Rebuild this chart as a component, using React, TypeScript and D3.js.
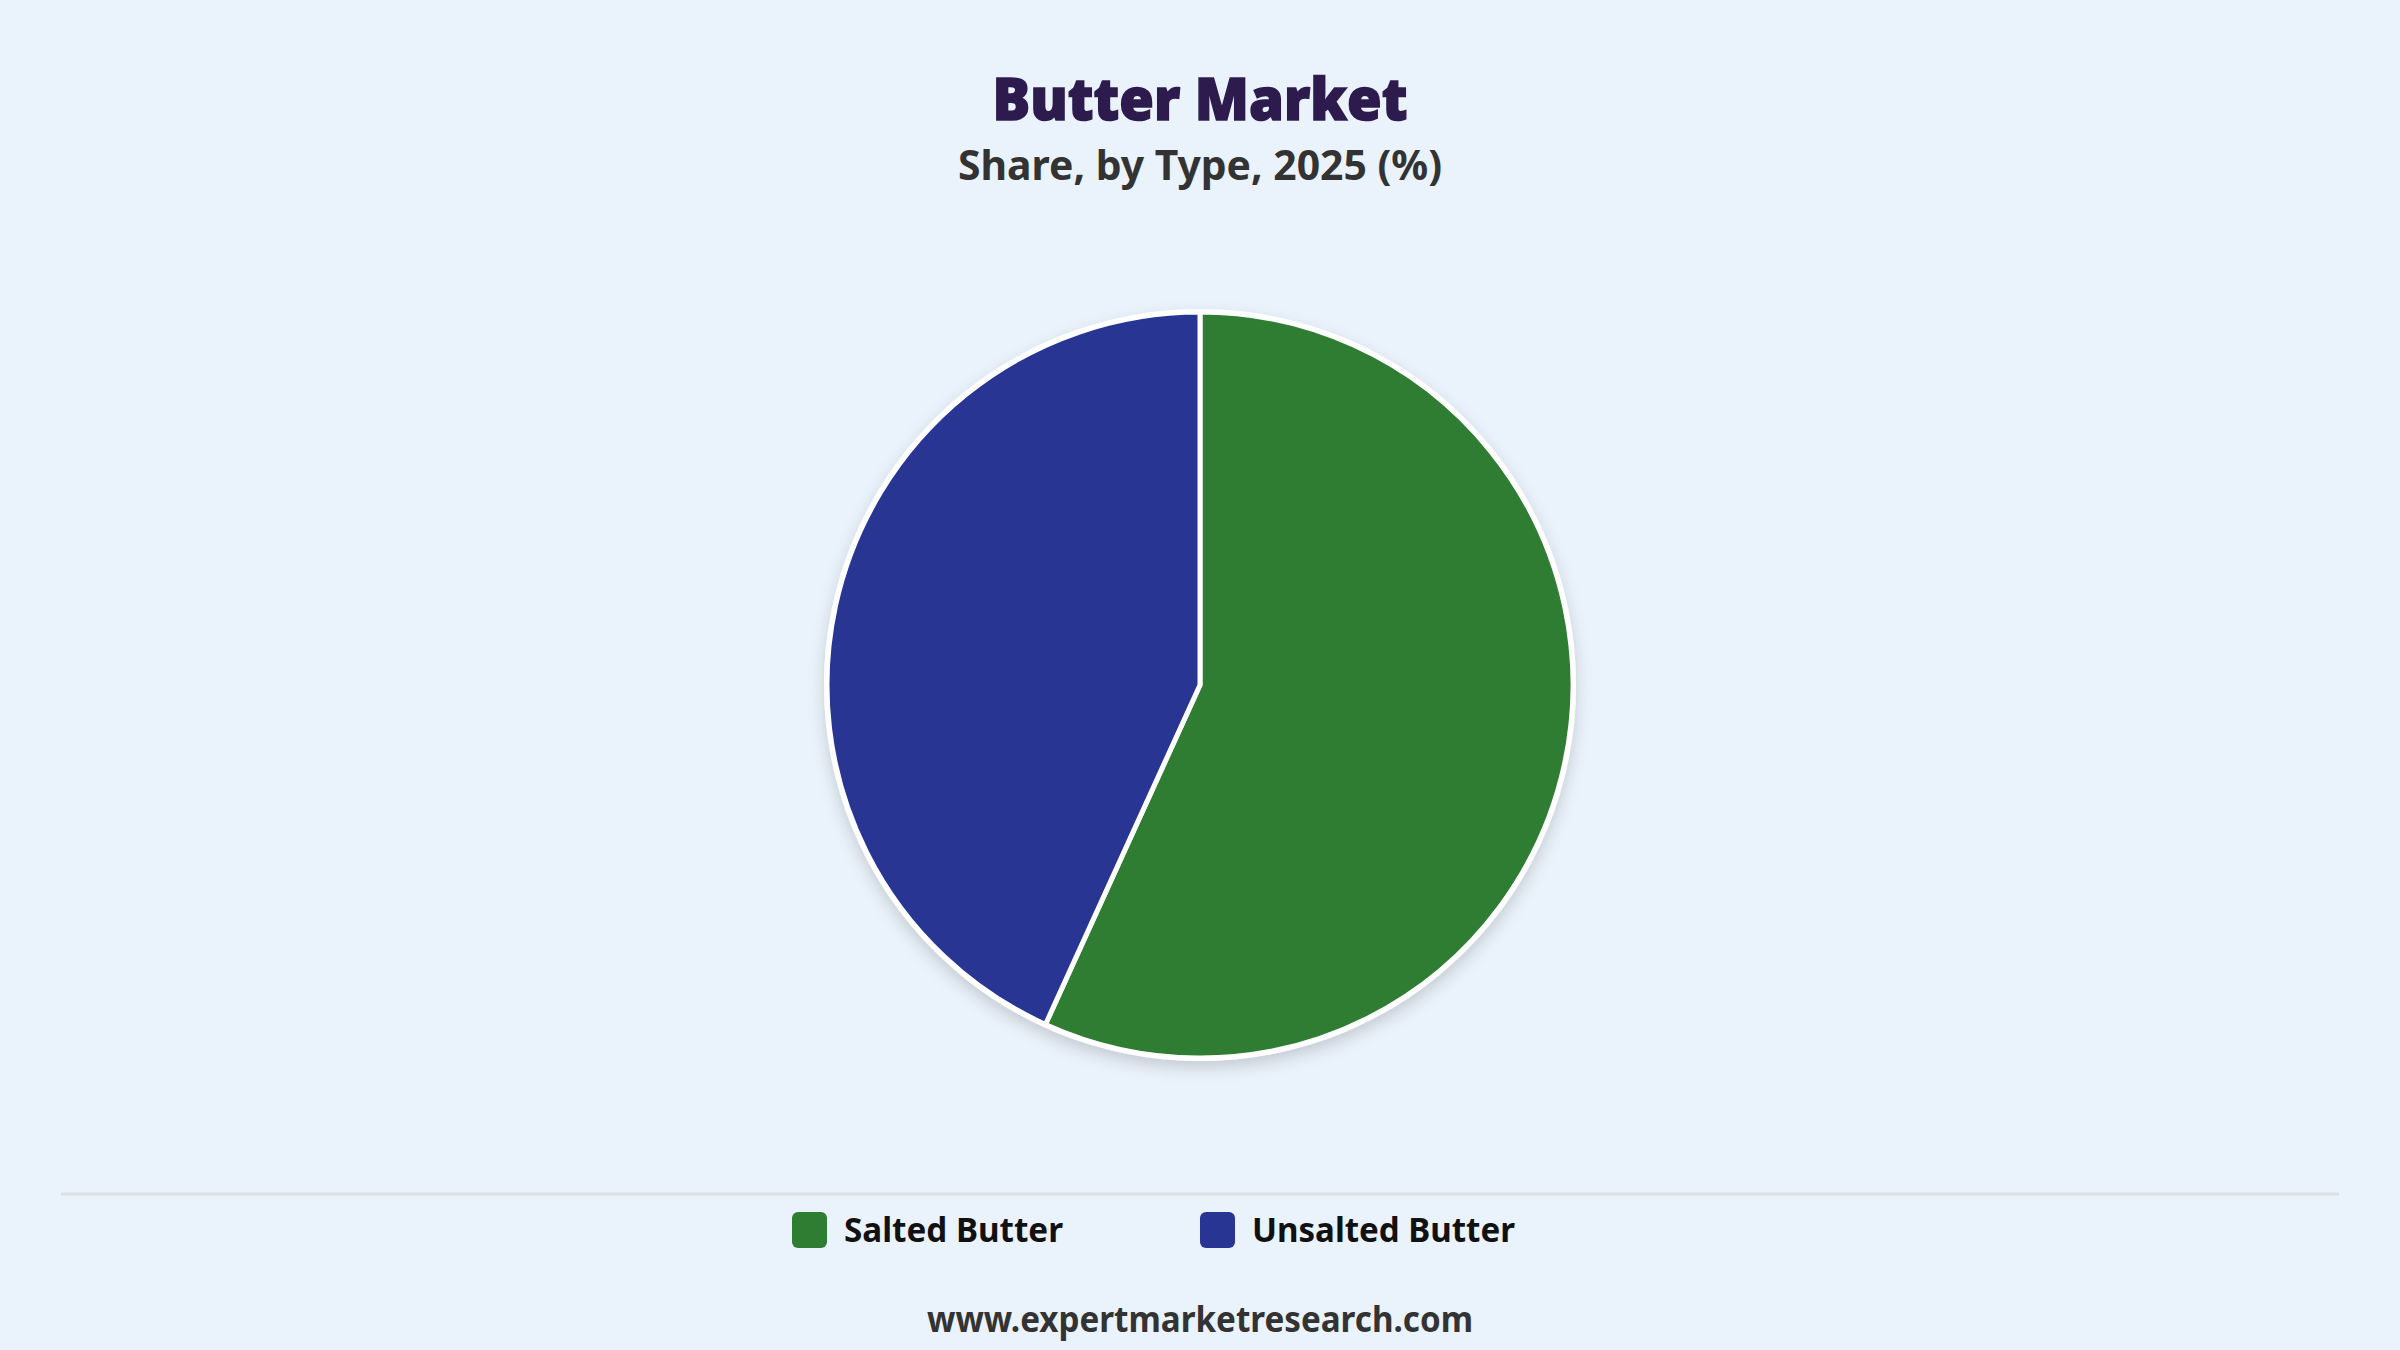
import * as d3 from 'd3';
import { useEffect } from 'react';

const categories = ['Salted Butter', 'Unsalted Butter'];
const shares = [56.8, 43.2];
const colours = ['#2e7d32', '#283593'];

const W = 2400;
const H = 1350;

const App = () => {
  useEffect(() => {
    document.body.style.margin = '0';
    document.body.style.background = '#eaf2fb';
  }, []);

  const cx = W / 2;
  const cy = 685;
  const radius = 373;

  const color = d3.scaleOrdinal<string, string>().domain(categories).range(colours);
  const pie = d3
    .pie<number>()
    .sort(null)
    .value((d) => d);
  const arcs = pie(shares);
  const arc = d3.arc<d3.PieArcDatum<number>>().innerRadius(0).outerRadius(radius);

  // legend entries, x position per category
  const legendX = d3.scaleOrdinal<string, number>().domain(categories).range([792, 1200]);

  return (
    <svg width={W} height={H} style={{ display: 'block', background: '#eaf2fb' }}>
      <defs>
        <filter id="shadow" x="-20%" y="-20%" width="140%" height="140%">
          <feDropShadow dx="0" dy="7" stdDeviation="8" floodColor="#000" floodOpacity="0.16" />
        </filter>
      </defs>

      <text
        x={cx}
        y={120}
        textAnchor="middle"
        fontFamily="Noto Sans"
        fontWeight={900}
        fontSize={58}
        fill="#2d1b4e"
        stroke="#2d1b4e"
        strokeWidth={1.5}
        textLength={415}
        lengthAdjust="spacingAndGlyphs"
      >
        Butter Market
      </text>
      <text
        x={cx}
        y={180}
        textAnchor="middle"
        fontFamily="Noto Sans"
        fontWeight={700}
        fontSize={41}
        fill="#333333"
        textLength={484}
        lengthAdjust="spacingAndGlyphs"
      >
        Share, by Type, 2025 (%)
      </text>

      <g transform={`translate(${cx},${cy})`}>
        <circle r={radius + 3} fill="#ffffff" filter="url(#shadow)" />
        {arcs.map((a, i) => (
          <path
            key={categories[i]}
            d={arc(a) ?? ''}
            fill={color(categories[i])}
            stroke="#ffffff"
            strokeWidth={5}
            strokeLinejoin="round"
          />
        ))}
      </g>

      <line x1={61} x2={2339} y1={1194} y2={1194} stroke="#dcdfe3" strokeWidth={3} />

      {categories.map((c, i) => (
        <g key={c} transform={`translate(${legendX(c)},1212)`}>
          <rect width={35} height={36} rx={6} fill={color(c)} />
          <text
            x={52}
            y={30}
            fontFamily="Noto Sans"
            fontWeight={700}
            fontSize={34}
            fill="#111111"
            textLength={i === 0 ? 219 : 263}
            lengthAdjust="spacingAndGlyphs"
          >
            {c}
          </text>
        </g>
      ))}

      <text
        x={cx}
        y={1332}
        textAnchor="middle"
        fontFamily="Noto Sans"
        fontWeight={700}
        fontSize={35}
        fill="#333333"
        textLength={546}
        lengthAdjust="spacingAndGlyphs"
      >
        www.expertmarketresearch.com
      </text>
    </svg>
  );
};

export default App;
